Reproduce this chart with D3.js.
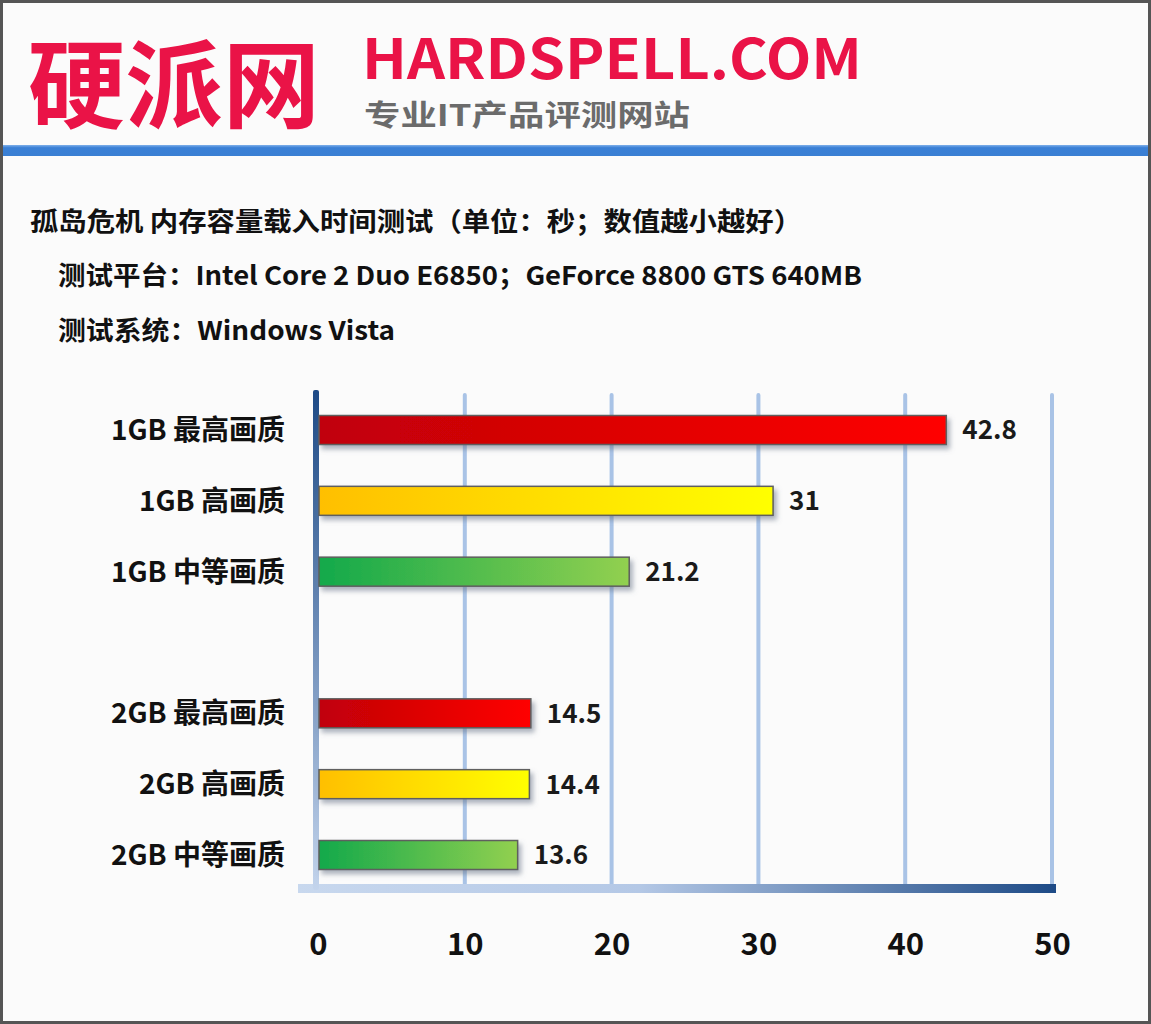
<!DOCTYPE html>
<html>
<head>
<meta charset="utf-8">
<script src="https://cdn.jsdelivr.net/npm/d3@7/dist/d3.min.js"></script>
<style>
  body { margin: 0; background: #fff; }
  text { font-family: "Noto Sans CJK SC", "DejaVu Sans", sans-serif; }
</style>
</head>
<body>
<script>

var width = 1151, height = 1024

/******** Data *********/

var groups = ["1GB", "2GB"]
var qualities = ["最高画质", "高画质", "中等画质"]
var values_1gb = [42.8, 31, 21.2]
var values_2gb = [14.5, 14.4, 13.6]
var ticks = [0, 10, 20, 30, 40, 50]

var title = "孤岛危机 内存容量载入时间测试（单位：秒；数值越小越好）"
var platform = "测试平台：Intel Core 2 Duo E6850；GeForce 8800 GTS 640MB"
var system = "测试系统：Windows Vista"

var bar_colors = [["#c00008", "#ff0000"], ["#ffbf00", "#ffff00"], ["#13a94b", "#92d050"]]

var rows = []
groups.forEach(function(g, gi){
  var vals = gi == 0 ? values_1gb : values_2gb
  qualities.forEach(function(q, qi){
    rows.push({label: g + " " + q, value: vals[qi], q: qi})
  })
})

// slot list, with a blank slot between the two groups
var slots = rows.slice(0, 3).map(function(d){ return d.label })
  .concat(["_gap"])
  .concat(rows.slice(3).map(function(d){ return d.label }))

/******** Scales *********/

var x_scale = d3.scaleLinear()
  .domain([0, 50])
  .range([318, 1052])

var y_scale = d3.scalePoint()
  .domain(slots)
  .range([430, 855])

var bar_h = 29

/******** SVG *********/

var svg = d3.select("body")
  .append("svg")
    .attr("width", width)
    .attr("height", height)

var defs = svg.append("defs")

bar_colors.forEach(function(c, i){
  var g = defs.append("linearGradient").attr("id", "bar" + i)
  g.append("stop").attr("offset", "0%").attr("stop-color", c[0])
  g.append("stop").attr("offset", "100%").attr("stop-color", c[1])
})

var vg = defs.append("linearGradient").attr("id", "yaxis")
  .attr("x1", 0).attr("y1", 0).attr("x2", 0).attr("y2", 1)
vg.append("stop").attr("offset", "0%").attr("stop-color", "#1d4a86")
vg.append("stop").attr("offset", "100%").attr("stop-color", "#c3d4ec")

var hg = defs.append("linearGradient").attr("id", "xaxis")
hg.append("stop").attr("offset", "0%").attr("stop-color", "#c8d8ee")
hg.append("stop").attr("offset", "45%").attr("stop-color", "#b4c8e6")
hg.append("stop").attr("offset", "100%").attr("stop-color", "#1d4a86")

var bg = defs.append("linearGradient").attr("id", "blueline")
  .attr("x1", 0).attr("y1", 0).attr("x2", 0).attr("y2", 1)
bg.append("stop").attr("offset", "0%").attr("stop-color", "#7fb0ea")
bg.append("stop").attr("offset", "25%").attr("stop-color", "#3a80d6")
bg.append("stop").attr("offset", "100%").attr("stop-color", "#3a7fd3")

var sh = defs.append("filter").attr("id", "shadow")
  .attr("x", "-5%").attr("y", "-40%").attr("width", "115%").attr("height", "200%")
sh.append("feDropShadow")
  .attr("dx", 3).attr("dy", 4).attr("stdDeviation", 2.5)
  .attr("flood-color", "#6a7588").attr("flood-opacity", 0.55)

/******** Background + frame *********/

svg.append("rect")
  .attr("width", width).attr("height", height)
  .attr("fill", "#fbfbfb")

svg.append("rect")
  .attr("x", 1.5).attr("y", 1.5)
  .attr("width", width - 3).attr("height", height - 3)
  .attr("fill", "none")
  .attr("stroke", "#555")
  .attr("stroke-width", 3)

svg.append("rect")
  .attr("x", 3).attr("y", 145)
  .attr("width", width - 6).attr("height", 11)
  .attr("fill", "url(#blueline)")

/******** Header *********/

svg.append("text")
  .attr("x", 28).attr("y", 120)
  .attr("font-size", 96)
  .attr("font-weight", "bold")
  .attr("fill", "#ea1347")
  .attr("textLength", 292)
  .attr("lengthAdjust", "spacingAndGlyphs")
  .text("硬派网")

svg.append("text")
  .attr("x", 362).attr("y", 79)
  .attr("font-family", "Roboto, 'DejaVu Sans', sans-serif")
  .attr("font-size", 55)
  .attr("font-weight", "bold")
  .attr("fill", "#ea1347")
  .attr("textLength", 500)
  .attr("lengthAdjust", "spacingAndGlyphs")
  .text("HARDSPELL.COM")

svg.append("text")
  .attr("x", 364).attr("y", 126)
  .attr("font-size", 29)
  .attr("font-weight", "bold")
  .attr("fill", "#6b6b6b")
  .attr("textLength", 326)
  .attr("lengthAdjust", "spacingAndGlyphs")
  .text("专业IT产品评测网站")

/******** Titles *********/

svg.append("text")
  .attr("x", 30).attr("y", 231)
  .attr("font-size", 26)
  .attr("font-weight", "bold")
  .attr("fill", "#111")
  .attr("textLength", 772)
  .attr("lengthAdjust", "spacingAndGlyphs")
  .text(title)

svg.append("text")
  .attr("x", 58).attr("y", 285)
  .attr("font-size", 26)
  .attr("font-weight", "bold")
  .attr("fill", "#111")
  .attr("textLength", 804)
  .attr("lengthAdjust", "spacingAndGlyphs")
  .text(platform)

svg.append("text")
  .attr("x", 58).attr("y", 340)
  .attr("font-size", 26)
  .attr("font-weight", "bold")
  .attr("fill", "#111")
  .attr("textLength", 337)
  .attr("lengthAdjust", "spacingAndGlyphs")
  .text(system)

/******** Grid *********/

svg.append("g")
  .selectAll("line")
  .data(ticks.slice(1))
  .enter()
  .append("line")
    .attr("x1", function(d){ return x_scale(d) })
    .attr("x2", function(d){ return x_scale(d) })
    .attr("y1", 395)
    .attr("y2", 886)
    .attr("stroke", "#a9c3e6")
    .attr("stroke-width", 4)
    .attr("stroke-linecap", "round")

svg.append("rect")
  .attr("x", 298).attr("y", 884)
  .attr("width", 758).attr("height", 9)
  .attr("fill", "url(#xaxis)")

svg.append("rect")
  .attr("x", x_scale(0) - 5).attr("y", 390)
  .attr("width", 6).attr("height", 500)
  .attr("rx", 2)
  .attr("fill", "url(#yaxis)")

/******** Bars *********/

svg.append("g")
  .selectAll("rect")
  .data(rows)
  .enter()
  .append("rect")
    .attr("x", x_scale(0) + 1)
    .attr("y", function(d){ return y_scale(d.label) - bar_h / 2 })
    .attr("width", function(d){ return x_scale(d.value) - x_scale(0) - 1 })
    .attr("height", bar_h)
    .attr("fill", function(d){ return "url(#bar" + d.q + ")" })
    .attr("stroke", "#5e5e5e")
    .attr("stroke-width", 1.5)
    .attr("filter", "url(#shadow)")

svg.append("g")
  .selectAll("text")
  .data(rows)
  .enter()
  .append("text")
    .attr("x", function(d){ return x_scale(d.value) + 16 })
    .attr("y", function(d){ return y_scale(d.label) })
    .attr("dy", "0.36em")
    .attr("font-family", "'DejaVu Sans', sans-serif")
    .attr("font-size", 26)
    .attr("font-weight", "bold")
    .attr("fill", "#1a1a1a")
    .text(function(d){ return d.value })

/******** Labels *********/

svg.append("g")
  .selectAll("text")
  .data(rows)
  .enter()
  .append("text")
    .attr("x", 285)
    .attr("y", function(d){ return y_scale(d.label) })
    .attr("dy", "0.36em")
    .attr("text-anchor", "end")
    .attr("font-size", 28)
    .attr("font-weight", "bold")
    .attr("fill", "#111")
    .text(function(d){ return d.label })

var x_axis = d3.axisBottom(x_scale)
  .tickValues(ticks)
  .tickSize(0)
  .tickPadding(0)

var axis_g = svg.append("g")
  .attr("transform", "translate(0, 933)")
  .call(x_axis)

axis_g.select(".domain").remove()
axis_g.selectAll("text")
  .attr("font-family", "'DejaVu Sans', sans-serif")
  .attr("font-size", 31)
  .attr("font-weight", "bold")
  .attr("fill", "#111")
  .attr("dy", "0.71em")

</script>
</body>
</html>
